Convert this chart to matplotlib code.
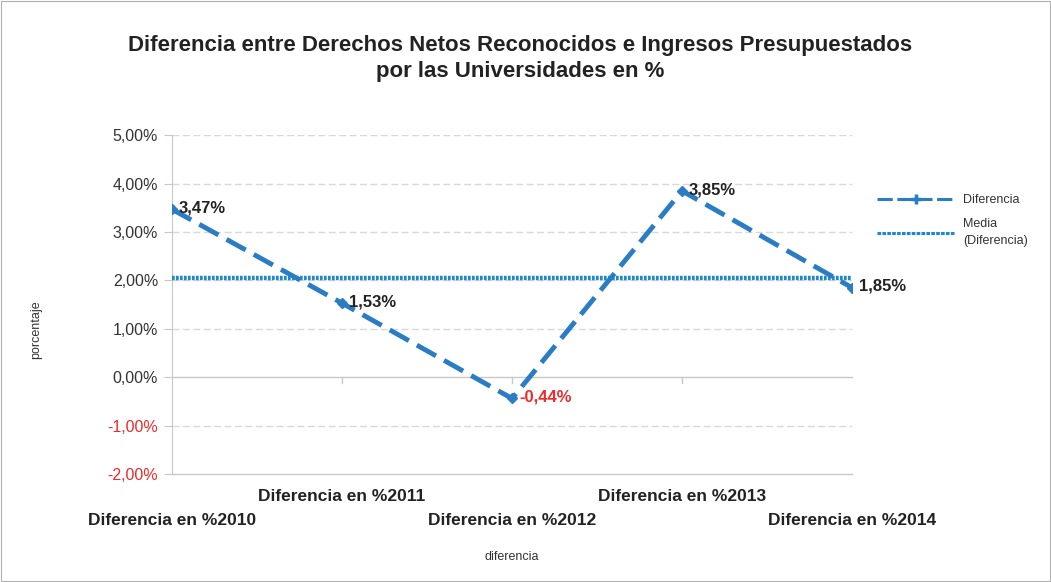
import matplotlib

matplotlib.use("Agg")
import matplotlib.pyplot as plt
from matplotlib.lines import Line2D
from matplotlib.patches import Rectangle
import numpy as np

categories = [
    "Diferencia en %2010",
    "Diferencia en %2011",
    "Diferencia en %2012",
    "Diferencia en %2013",
    "Diferencia en %2014",
]
diferencia = [3.47, 1.53, -0.44, 3.85, 1.85]
y_ticks = [-2, -1, 0, 1, 2, 3, 4, 5]

LINE_BLUE = "#2a7cc4"
MEAN_BLUE = "#1c87d3"
TEXT = "#222222"
RED = "#ee2a2a"

plt.rcParams["font.family"] = ["Liberation Sans", "DejaVu Sans"]

fig = plt.figure(figsize=(10.51, 5.82), dpi=100)
fig.patches.append(Rectangle((0.001, 0.001), 0.998, 0.997, transform=fig.transFigure,
                             fill=False, edgecolor="#b0b0b0", linewidth=0.8))
ax = fig.add_axes([0.1637, 0.1856, 0.647, 0.582])

x = np.arange(len(categories))
media = np.mean(diferencia)

ax.plot(x, diferencia, color=LINE_BLUE, linewidth=3.5, dashes=(4.5, 1.9),
        marker="D", markersize=5, zorder=5)
ax.plot([x[0], x[-1]], [media, media], color=MEAN_BLUE, linewidth=3.2,
        linestyle=(0, (0.6, 0.3)), zorder=4)

for xi, v in zip(x, diferencia):
    txt = f"{v:.2f}%".replace(".", ",")
    ax.annotate(txt, (xi, v), xytext=(5, 1), textcoords="offset points",
                fontsize=12, fontweight="bold", color=RED if v < 0 else TEXT,
                ha="left", va="center", zorder=6)

ax.set_xlim(x[0], x[-1])
ax.set_ylim(y_ticks[0], y_ticks[-1])
ax.set_yticks(y_ticks)
ax.set_yticklabels([f"{t:.2f}%".replace(".", ",") for t in y_ticks], fontsize=11.5)
for lab, t in zip(ax.get_yticklabels(), y_ticks):
    lab.set_color(RED if t < 0 else "#333333")
ax.tick_params(axis="y", length=6, color="#c8c8c8", pad=4)

for t in y_ticks:
    if t in (0, y_ticks[0]):
        ax.axhline(t, color="#c8c8c8", linewidth=1.0, zorder=1, clip_on=False)
    else:
        ax.axhline(t, color="#d8d8d8", linewidth=1.0, dashes=(5, 2.5), zorder=1)

# ticks on the zero line
for xi in x[1:-1]:
    ax.plot([xi, xi], [0, -0.12], color="#c8c8c8", linewidth=1.0, zorder=1)

ax.set_xticks(x)
ax.set_xticklabels([])
ax.tick_params(axis="x", length=0)
for i, (xi, c) in enumerate(zip(x, categories)):
    off = -0.46 if i % 2 == 1 else -0.96
    ax.text(xi, y_ticks[0] + off, c, fontsize=12.5, fontweight="bold", color=TEXT,
            ha="center", va="center")

for s in ["top", "right", "bottom"]:
    ax.spines[s].set_visible(False)
ax.spines["left"].set_color("#c8c8c8")

fig.text(0.495, 0.9, "Diferencia entre Derechos Netos Reconocidos e Ingresos Presupuestados\npor las Universidades en %",
         ha="center", va="center", fontsize=16, fontweight="bold", color=TEXT, linespacing=1.3)
fig.text(0.487, 0.043, "diferencia", ha="center", va="center", fontsize=9, color="#333333")
fig.text(0.034, 0.433, "porcentaje", ha="center", va="center", rotation=90, fontsize=9, color="#333333")

handles = [
    Line2D([], [], color=LINE_BLUE, linewidth=2.2, dashes=(5, 1.5), marker="+",
           markersize=7, markeredgewidth=2.5),
    Line2D([], [], color=MEAN_BLUE, linewidth=2.2, linestyle=(0, (1.2, 0.4))),
]
leg = ax.legend(handles, ["Diferencia", "Media\n(Diferencia)"], loc="upper left",
                bbox_to_anchor=(1.02, 0.86), frameon=False, fontsize=9,
                handlelength=6.2, labelspacing=1.0, handletextpad=0.7)
for t in leg.get_texts():
    t.set_color("#333333")
    t.set_linespacing(1.5)

fig.savefig("out.png", dpi=100)
